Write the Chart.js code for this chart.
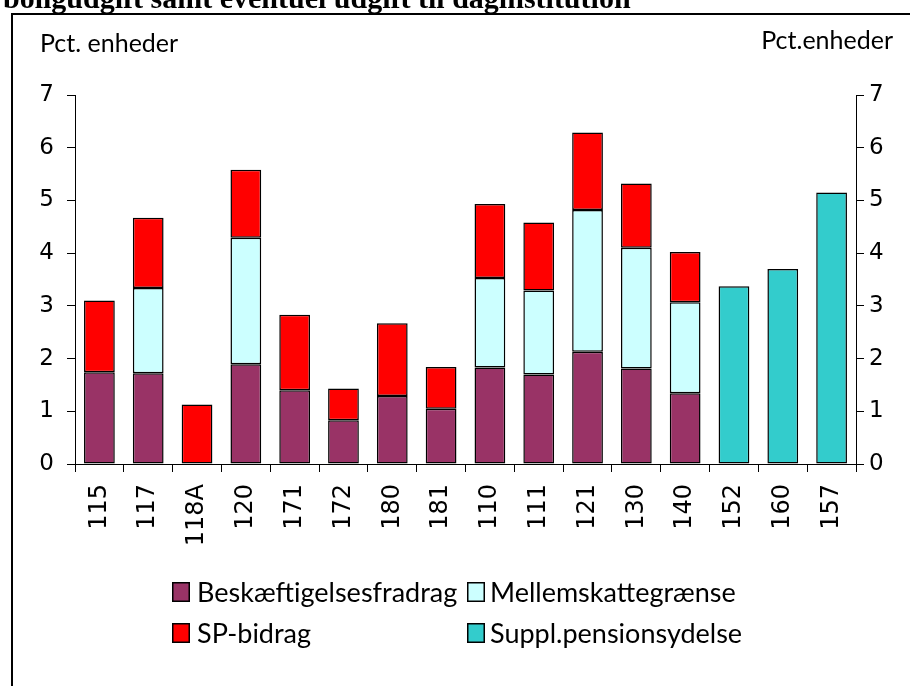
<!DOCTYPE html>
<html><head><meta charset="utf-8">
<script src="https://cdn.jsdelivr.net/npm/chart.js@4.4.1/dist/chart.umd.min.js"></script>
<style>html,body{margin:0;padding:0;background:#fff;} canvas{display:block;}</style>
</head><body>
<canvas id="c" width="910" height="686"></canvas>
<script>
// ---- data ----
const categories = ['115','117','118A','120','171','172','180','181','110','111','121','130','140','152','160','157'];
const beskaeftigelsesfradrag = [1.74,1.72,null,1.89,1.40,0.83,1.29,1.05,1.83,1.70,2.13,1.81,1.34,null,null,null];
const mellemskattegraense   = [null,1.62,null,2.40,null,null,null,null,1.70,1.59,2.69,2.29,1.73,null,null,null];
const spBidrag              = [1.36,1.33,1.13,1.29,1.43,0.60,1.38,0.79,1.40,1.29,1.47,1.22,0.95,null,null,null];
const supplPensionsydelse   = [null,null,null,null,null,null,null,null,null,null,null,null,null,3.37,3.70,5.15];
const seriesNames = ['Beskæftigelsesfradrag','Mellemskattegrænse','SP-bidrag','Suppl.pensionsydelse'];
const yMin = 0, yMax = 7, yStep = 1;
const titleText = 'boligudgift samt eventuel udgift til daginstitution';
const axisTitleLeft = 'Pct. enheder';
const axisTitleRight = 'Pct.enheder';

// ---- styles ----
const colors = ['#993366','#CCFFFF','#FF0000','#33CCCC'];
const seriesData = [beskaeftigelsesfradrag, mellemskattegraense, spBidrag, supplPensionsydelse];

const decor = {
  id: 'decor',
  beforeDraw(chart) {
    const ctx = chart.ctx;
    ctx.save();
    ctx.fillStyle = '#fff';
    ctx.fillRect(0, 0, chart.width, chart.height);
    ctx.restore();
  },
  afterDraw(chart) {
    const ctx = chart.ctx;
    ctx.save();
    // clipped title at top
    ctx.fillStyle = '#000';
    ctx.font = 'bold 30px "Liberation Serif"';
    ctx.textBaseline = 'alphabetic';
    ctx.textAlign = 'left';
    ctx.fillText(titleText, 3, 8);
    // frame
    ctx.strokeStyle = '#000';
    ctx.lineWidth = 2;
    ctx.beginPath();
    ctx.moveTo(12, 700);
    ctx.lineTo(12, 14);
    ctx.lineTo(915, 14);
    ctx.stroke();
    // axis titles
    ctx.font = '25px Lato';
    ctx.textAlign = 'left';
    ctx.fillText(axisTitleLeft, 40, 52);
    ctx.textAlign = 'right';
    ctx.fillText(axisTitleRight, 893, 49);
    // legend
    const boxX = [172, 467];
    const textX = [197, 490];
    const rowCenter = [592, 633];
    chart.data.datasets.forEach((ds, i) => {
      const c = i % 2, r = Math.floor(i / 2);
      const bx = boxX[c], by = rowCenter[r] - 10;
      ctx.fillStyle = ds.backgroundColor;
      ctx.fillRect(bx, by, 18, 20);
      ctx.lineWidth = 1.5;
      ctx.strokeStyle = '#000';
      ctx.strokeRect(bx + 0.75, by + 0.75, 16.5, 18.5);
      ctx.fillStyle = '#000';
      ctx.textAlign = 'left';
      ctx.font = '27px Lato';
      ctx.fillText(ds.label, textX[c], rowCenter[r] + 10);
    });
    ctx.restore();
  }
};

new Chart(document.getElementById('c'), {
  type: 'bar',
  data: {
    labels: categories,
    datasets: seriesNames.map((name, i) => ({
      label: name,
      data: seriesData[i],
      backgroundColor: colors[i],
      borderColor: '#000',
      borderWidth: 1.5,
      borderSkipped: false,
      barPercentage: 0.63,
      categoryPercentage: 1.0
    }))
  },
  options: {
    responsive: false,
    devicePixelRatio: 1,
    animation: false,
    layout: { padding: { top: 95, left: 0, right: 0, bottom: 0 } },
    plugins: { legend: { display: false }, tooltip: { enabled: false }, title: { display: false } },
    scales: {
      x: {
        stacked: true,
        grid: { display: true, drawOnChartArea: false, drawTicks: true, tickLength: 8, color: '#000', offset: true },
        border: { display: true, color: '#000', width: 1 },
        ticks: { color: '#000', font: { family: 'DejaVu Sans', size: 24 }, minRotation: 90, maxRotation: 90, autoSkip: false, padding: 12 },
        afterFit(scale) { scale.height = 222; }
      },
      y: {
        stacked: true,
        position: 'left',
        min: yMin, max: yMax,
        grid: { display: true, drawOnChartArea: false, drawTicks: true, tickLength: 8, color: '#000' },
        border: { display: true, color: '#000', width: 1 },
        ticks: { stepSize: yStep, color: '#000', font: { family: 'DejaVu Sans', size: 23 }, padding: 13 },
        afterFit(scale) { scale.width = 75; }
      },
      y2: {
        position: 'right',
        min: yMin, max: yMax,
        grid: { display: true, drawOnChartArea: false, drawTicks: true, tickLength: 8, color: '#000' },
        border: { display: true, color: '#000', width: 1 },
        ticks: { stepSize: yStep, color: '#000', font: { family: 'DejaVu Sans', size: 23 }, padding: 5 },
        afterFit(scale) { scale.width = 54; }
      }
    }
  },
  plugins: [decor]
});
</script>
</body></html>
